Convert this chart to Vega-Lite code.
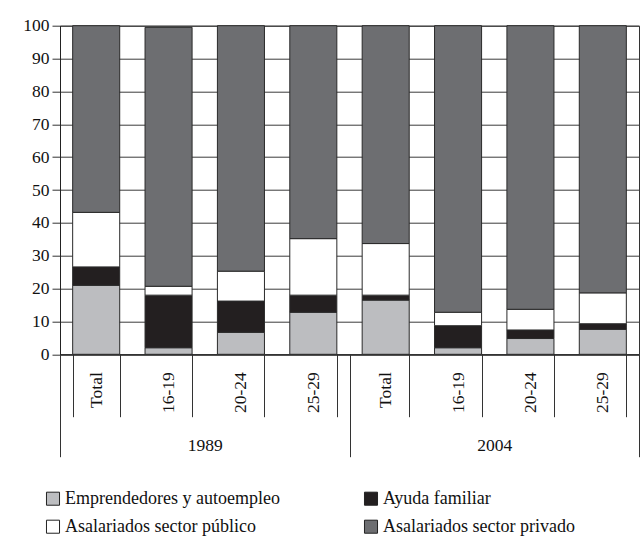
{
  "$schema": "https://vega.github.io/schema/vega-lite/v6.json",
  "width": 579,
  "height": 328.6,
  "autosize": {"type": "none"},
  "padding": {"left": 60, "top": 25.7, "right": 5, "bottom": 186.7},
  "config": {
    "font": "Liberation Serif",
    "view": {"stroke": "#333333", "strokeWidth": 1},
    "axis": {"labelFont": "Liberation Serif", "labelFontSize": 17, "labelColor": "#111111", "domainColor": "#222222", "tickColor": "#333333", "domainWidth": 1, "tickWidth": 1},
    "legend": {"labelFont": "Liberation Serif", "labelFontSize": 18, "labelColor": "#111111"}
  },
  "data": {
    "values": [
      {"grupo": "1989 Total", "anio": "1989", "tipo": "Emprendedores y autoempleo", "orden": 1, "valor": 21.0},
      {"grupo": "1989 Total", "anio": "1989", "tipo": "Ayuda familiar", "orden": 2, "valor": 5.6},
      {"grupo": "1989 Total", "anio": "1989", "tipo": "Asalariados sector público", "orden": 3, "valor": 16.6},
      {"grupo": "1989 Total", "anio": "1989", "tipo": "Asalariados sector privado", "orden": 4, "valor": 56.8},
      {"grupo": "1989 16-19", "anio": "1989", "tipo": "Emprendedores y autoempleo", "orden": 1, "valor": 2.0},
      {"grupo": "1989 16-19", "anio": "1989", "tipo": "Ayuda familiar", "orden": 2, "valor": 16.0},
      {"grupo": "1989 16-19", "anio": "1989", "tipo": "Asalariados sector público", "orden": 3, "valor": 2.7},
      {"grupo": "1989 16-19", "anio": "1989", "tipo": "Asalariados sector privado", "orden": 4, "valor": 78.8},
      {"grupo": "1989 20-24", "anio": "1989", "tipo": "Emprendedores y autoempleo", "orden": 1, "valor": 6.7},
      {"grupo": "1989 20-24", "anio": "1989", "tipo": "Ayuda familiar", "orden": 2, "valor": 9.5},
      {"grupo": "1989 20-24", "anio": "1989", "tipo": "Asalariados sector público", "orden": 3, "valor": 9.1},
      {"grupo": "1989 20-24", "anio": "1989", "tipo": "Asalariados sector privado", "orden": 4, "valor": 74.7},
      {"grupo": "1989 25-29", "anio": "1989", "tipo": "Emprendedores y autoempleo", "orden": 1, "valor": 12.8},
      {"grupo": "1989 25-29", "anio": "1989", "tipo": "Ayuda familiar", "orden": 2, "valor": 5.2},
      {"grupo": "1989 25-29", "anio": "1989", "tipo": "Asalariados sector público", "orden": 3, "valor": 17.2},
      {"grupo": "1989 25-29", "anio": "1989", "tipo": "Asalariados sector privado", "orden": 4, "valor": 64.8},
      {"grupo": "2004 Total", "anio": "2004", "tipo": "Emprendedores y autoempleo", "orden": 1, "valor": 16.5},
      {"grupo": "2004 Total", "anio": "2004", "tipo": "Ayuda familiar", "orden": 2, "valor": 1.5},
      {"grupo": "2004 Total", "anio": "2004", "tipo": "Asalariados sector público", "orden": 3, "valor": 15.7},
      {"grupo": "2004 Total", "anio": "2004", "tipo": "Asalariados sector privado", "orden": 4, "valor": 66.3},
      {"grupo": "2004 16-19", "anio": "2004", "tipo": "Emprendedores y autoempleo", "orden": 1, "valor": 2.0},
      {"grupo": "2004 16-19", "anio": "2004", "tipo": "Ayuda familiar", "orden": 2, "valor": 6.7},
      {"grupo": "2004 16-19", "anio": "2004", "tipo": "Asalariados sector público", "orden": 3, "valor": 4.1},
      {"grupo": "2004 16-19", "anio": "2004", "tipo": "Asalariados sector privado", "orden": 4, "valor": 87.2},
      {"grupo": "2004 20-24", "anio": "2004", "tipo": "Emprendedores y autoempleo", "orden": 1, "valor": 4.8},
      {"grupo": "2004 20-24", "anio": "2004", "tipo": "Ayuda familiar", "orden": 2, "valor": 2.6},
      {"grupo": "2004 20-24", "anio": "2004", "tipo": "Asalariados sector público", "orden": 3, "valor": 6.3},
      {"grupo": "2004 20-24", "anio": "2004", "tipo": "Asalariados sector privado", "orden": 4, "valor": 86.3},
      {"grupo": "2004 25-29", "anio": "2004", "tipo": "Emprendedores y autoempleo", "orden": 1, "valor": 7.6},
      {"grupo": "2004 25-29", "anio": "2004", "tipo": "Ayuda familiar", "orden": 2, "valor": 1.7},
      {"grupo": "2004 25-29", "anio": "2004", "tipo": "Asalariados sector público", "orden": 3, "valor": 9.4},
      {"grupo": "2004 25-29", "anio": "2004", "tipo": "Asalariados sector privado", "orden": 4, "valor": 81.3}
    ]
  },
  "layer": [
    {
      "mark": {"type": "bar", "stroke": "#2a2a2a", "strokeWidth": 1},
      "encoding": {
        "x": {
          "field": "grupo", "type": "nominal", "sort": null,
          "scale": {"paddingInner": 0.35, "paddingOuter": 0.175},
          "axis": {"title": null, "orient": "bottom", "labelAngle": -90, "labelExpr": "split(datum.label, ' ')[1]", "tickBand": "extent", "tickSize": 62.4, "labelPadding": -45, "labelAlign": "right", "labelBaseline": "middle", "labelFont": "Liberation Serif", "labelFontSize": 17.5}
        },
        "y": {
          "field": "valor", "type": "quantitative", "stack": "zero",
          "scale": {"domain": [0, 100], "nice": false},
          "axis": {"title": null, "values": [0, 10, 20, 30, 40, 50, 60, 70, 80, 90, 100], "grid": true, "gridColor": "#3a3a3a", "gridWidth": 1, "gridOpacity": 1, "tickSize": 8, "labelPadding": 3, "labelFont": "Liberation Serif", "labelFontSize": 17.5}
        },
        "color": {
          "field": "tipo", "type": "nominal",
          "scale": {
            "domain": ["Emprendedores y autoempleo", "Asalariados sector público", "Ayuda familiar", "Asalariados sector privado"],
            "range": ["#bcbdc0", "#ffffff", "#231f20", "#6d6e71"]
          },
          "legend": {
            "title": null, "orient": "none", "legendX": -16, "legendY": 464,
            "columns": 2, "columnPadding": 82, "rowPadding": 10,
            "symbolType": "square", "symbolSize": 170, "symbolStrokeColor": "#222222", "symbolStrokeWidth": 1,
            "labelOffset": 3, "labelLimit": 400, "labelFont": "Liberation Serif", "labelFontSize": 18
          }
        },
        "order": {"field": "orden", "type": "quantitative"}
      }
    },
    {
      "mark": {"type": "text", "opacity": 0},
      "encoding": {
        "x": {
          "field": "anio", "type": "nominal",
          "scale": {"paddingInner": 0, "paddingOuter": 0},
          "axis": {"title": null, "orient": "bottom", "labelAngle": 0, "tickBand": "extent", "tickSize": 102.4, "labelPadding": -11, "labelBaseline": "middle", "domain": false, "labelFont": "Liberation Serif", "labelFontSize": 17.5}
        },
        "text": {"value": ""}
      }
    }
  ],
  "resolve": {"scale": {"x": "independent"}, "axis": {"x": "independent"}}
}
